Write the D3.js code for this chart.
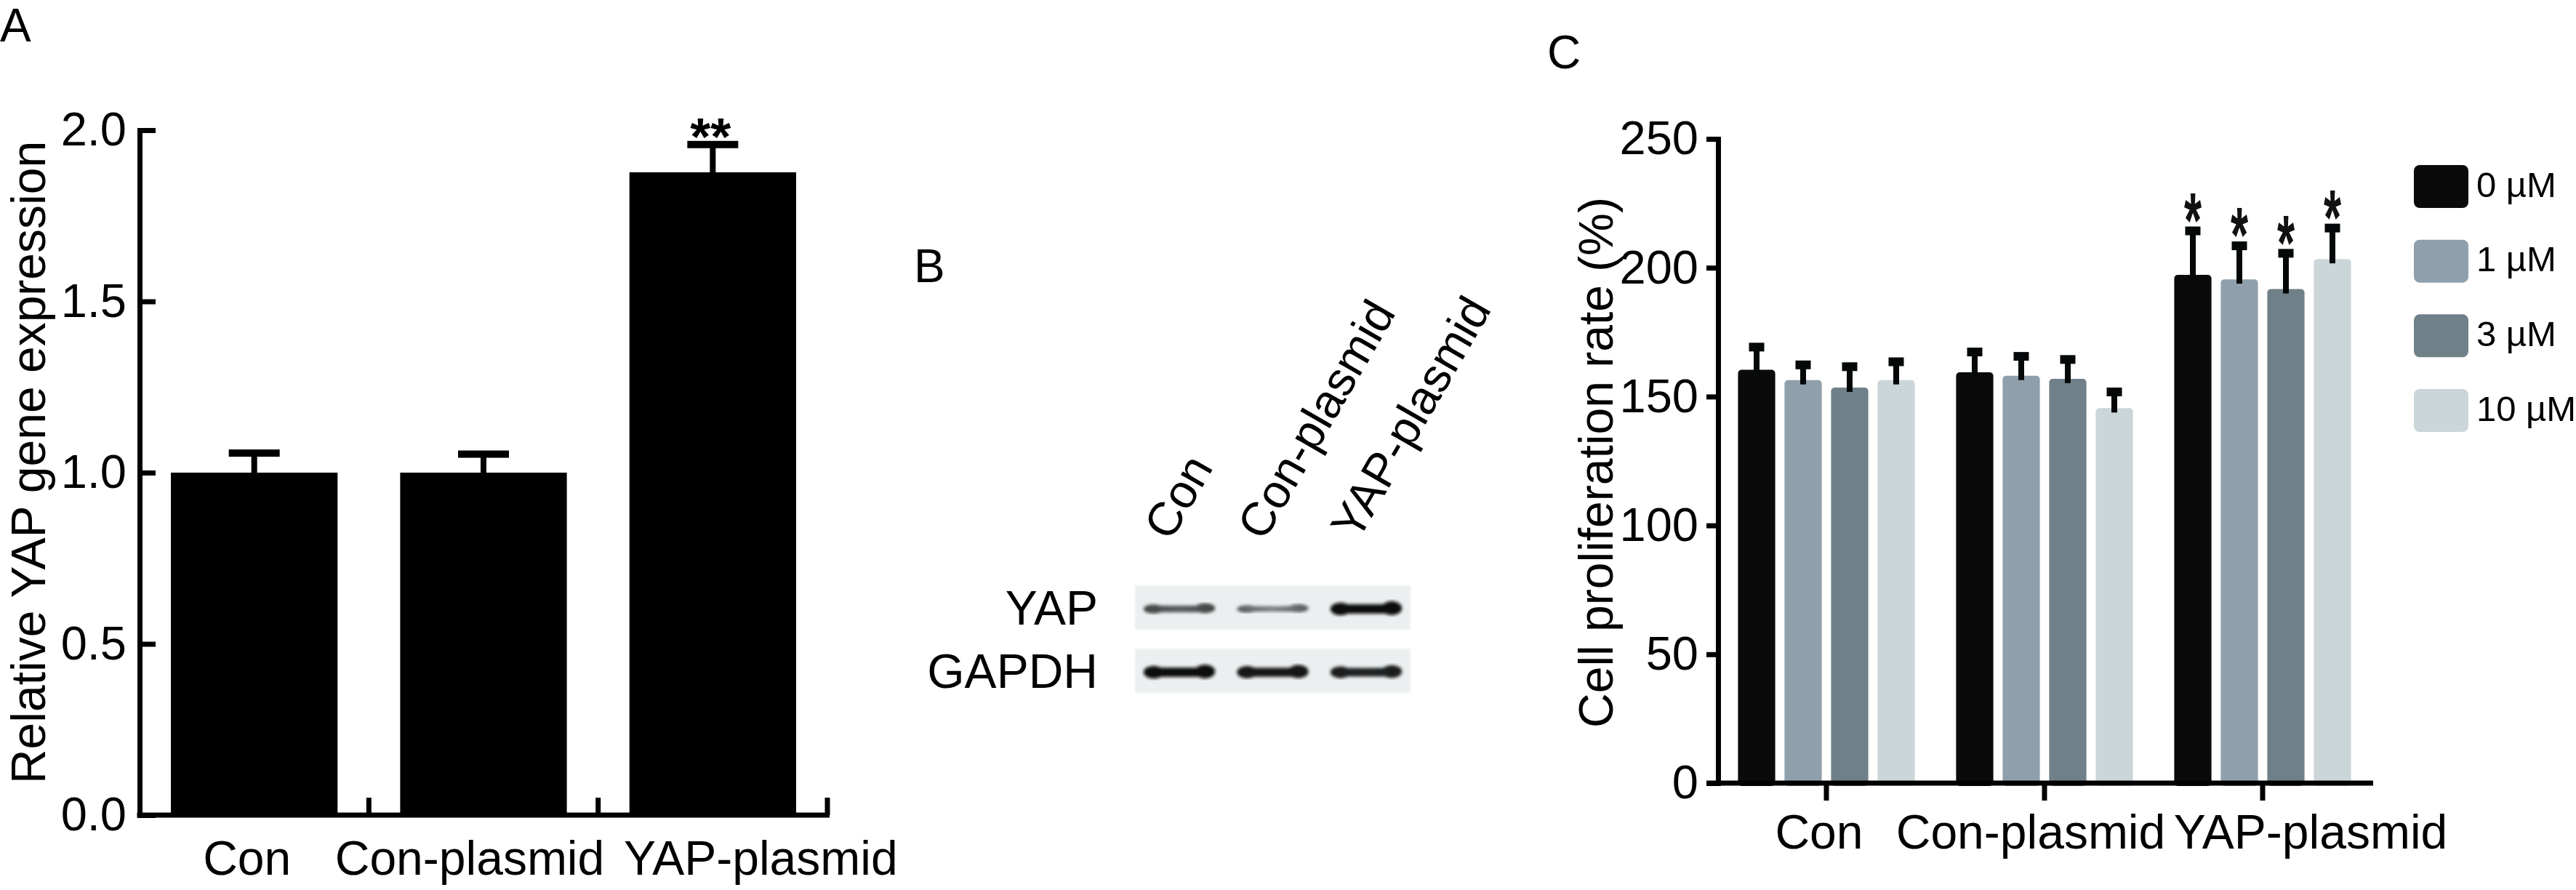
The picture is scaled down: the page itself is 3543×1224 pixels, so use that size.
<!DOCTYPE html>
<html>
<head>
<meta charset="utf-8">
<script src="https://cdn.jsdelivr.net/npm/d3@7"></script>
<style>
  html, body { margin: 0; padding: 0; background: #ffffff; }
  svg { display: block; }
</style>
</head>
<body>
<svg id="chart" width="3543" height="1224"></svg>
<script>
// ================= DATA =================
// Panel A: relative YAP gene expression
const categoriesA = ["Con", "Con-plasmid", "YAP-plasmid"];
const expressionMean = [1.0, 1.0, 1.877];
const expressionErr = [0.057, 0.054, 0.081];
const significanceA = ["", "", "**"];
const ticksA = [0, 0.5, 1.0, 1.5, 2.0];
const panelLabels = ["A", "B", "C"];

// Panel B: western blot (relative band signal)
const lanes = ["Con", "Con-plasmid", "YAP-plasmid"];
const blotRows = ["YAP", "GAPDH"];
const yapSignal = [0.55, 0.35, 1.0];
const gapdhSignal = [1.0, 0.95, 0.88];

// Panel C: cell proliferation rate (%)
const groupsC = ["Con", "Con-plasmid", "YAP-plasmid"];
const doses = ["0 µM", "1 µM", "3 µM", "10 µM"];
const rate0uM = [160.4, 159.4, 197.2];
const rate1uM = [156.4, 158.1, 195.5];
const rate3uM = [153.5, 156.9, 191.7];
const rate10uM = [156.4, 145.5, 203.4];
const err0uM = [8.8, 7.9, 17.1];
const err1uM = [5.9, 7.5, 13.0];
const err3uM = [8.1, 7.5, 13.9];
const err10uM = [7.1, 6.3, 12.0];
const significanceC = ["", "", "*"];
const ticksC = [0, 50, 100, 150, 200, 250];
const doseColors = ["#0a0a0a", "#8fa0ac", "#6f8089", "#cbd6d9"];

// ================= DRAW =================
const FONT = '"Liberation Sans", Arial, Helvetica, sans-serif';
const svg = d3.select("#chart");
svg.append("rect").attr("width", 3543).attr("height", 1224).attr("fill", "#fff");
const labelShift = [-10, -19, 66];   // horizontal nudges of category labels (layout)

// panel letters
const letterPos = [[0, 57], [1257, 388], [2128, 94]];
svg.selectAll("text.panel").data(panelLabels).join("text")
  .attr("class", "panel")
  .attr("x", (d, i) => letterPos[i][0]).attr("y", (d, i) => letterPos[i][1])
  .attr("font-family", FONT).attr("font-size", 64).attr("fill", "#000")
  .text(d => d);

// ---------- Panel A ----------
const A = { left: 192, right: 1138, top: 179, bottom: 1121 };
const xA = d3.scaleBand().domain(categoriesA).range([A.left, A.right]).padding(0);
const yA = d3.scaleLinear().domain([0, 2]).range([A.bottom, A.top]);
const barFracA = 0.727;
const gA = svg.append("g");

gA.selectAll("rect.bar").data(categoriesA).join("rect")
  .attr("class", "bar")
  .attr("x", d => xA(d) + xA.bandwidth() * (1 - barFracA) / 2)
  .attr("width", xA.bandwidth() * barFracA)
  .attr("y", (d, i) => yA(expressionMean[i]))
  .attr("height", (d, i) => yA(0) - yA(expressionMean[i]))
  .attr("fill", "#000");

// error bars
gA.selectAll("rect.stem").data(categoriesA).join("rect")
  .attr("class", "stem")
  .attr("x", d => xA(d) + xA.bandwidth() / 2 - 4)
  .attr("width", 8)
  .attr("y", (d, i) => yA(expressionMean[i] + expressionErr[i]))
  .attr("height", (d, i) => yA(expressionMean[i]) - yA(expressionMean[i] + expressionErr[i]) + 1)
  .attr("fill", "#000");
gA.selectAll("rect.cap").data(categoriesA).join("rect")
  .attr("class", "cap")
  .attr("x", d => xA(d) + xA.bandwidth() / 2 - 35)
  .attr("width", 70)
  .attr("y", (d, i) => yA(expressionMean[i] + expressionErr[i]) - 5)
  .attr("height", 10)
  .attr("fill", "#000");
gA.selectAll("text.sig").data(categoriesA).join("text")
  .attr("class", "sig")
  .attr("x", d => xA(d) + xA.bandwidth() / 2 - 3)
  .attr("y", (d, i) => yA(expressionMean[i] + expressionErr[i]) - 25 + 0.55 * 72)
  .attr("text-anchor", "middle")
  .attr("font-family", FONT).attr("font-weight", "bold").attr("font-size", 72)
  .text((d, i) => significanceA[i]);

// y axis (inward ticks)
const axA = gA.append("g").attr("transform", `translate(${A.left},0)`)
  .call(d3.axisLeft(yA).tickValues(ticksA).tickFormat(d3.format(".1f"))
    .tickSize(-22).tickSizeOuter(0).tickPadding(18));
axA.select(".domain").attr("stroke", "#000").attr("stroke-width", 7).attr("stroke-linecap", "square");
axA.selectAll(".tick line").attr("stroke", "#000").attr("stroke-width", 7);
axA.selectAll(".tick text").attr("font-family", FONT).attr("font-size", 65).attr("fill", "#000");

// x axis with upward ticks at category boundaries
gA.append("line").attr("x1", A.left - 3.5).attr("x2", A.right + 3)
  .attr("y1", A.bottom).attr("y2", A.bottom)
  .attr("stroke", "#000").attr("stroke-width", 7);
gA.selectAll("line.xtick").data(categoriesA).join("line")
  .attr("class", "xtick")
  .attr("x1", d => xA(d) + xA.bandwidth()).attr("x2", d => xA(d) + xA.bandwidth())
  .attr("y1", A.bottom).attr("y2", A.bottom - 24)
  .attr("stroke", "#000").attr("stroke-width", 7);
gA.selectAll("text.xlab").data(categoriesA).join("text")
  .attr("class", "xlab")
  .attr("x", (d, i) => xA(d) + xA.bandwidth() / 2 + labelShift[i])
  .attr("y", 1203)
  .attr("text-anchor", "middle")
  .attr("font-family", FONT).attr("font-size", 66)
  .text(d => d);
gA.append("text")
  .attr("transform", "translate(62,636) rotate(-90)")
  .attr("text-anchor", "middle")
  .attr("font-family", FONT).attr("font-size", 66)
  .text("Relative YAP gene expression");

// ---------- Panel B (blot) ----------
const B = { left: 1561, right: 1940, top: 805, bottom: 953 };
const xB = d3.scaleBand().domain(lanes).range([B.left, B.right]).paddingInner(0.25).paddingOuter(0.1);
const yB = d3.scaleBand().domain(blotRows).range([B.top, B.bottom]).paddingInner(0.3).paddingOuter(0);
const gB = svg.append("g");
const defs = svg.append("defs");
defs.append("filter").attr("id", "soft").append("feGaussianBlur").attr("stdDeviation", 1.6);
defs.append("filter").attr("id", "band").append("feGaussianBlur").attr("stdDeviation", 2.2);

gB.selectAll("rect.membrane").data(blotRows).join("rect")
  .attr("class", "membrane")
  .attr("x", B.left).attr("width", B.right - B.left)
  .attr("y", d => yB(d)).attr("height", yB.bandwidth())
  .attr("fill", "#eceff0").attr("filter", "url(#soft)");

const bandRows = [
  { row: "YAP", signal: yapSignal },
  { row: "GAPDH", signal: gapdhSignal }
];
const dark = "#0c0f0f", paper = "#e6eaea";
bandRows.forEach((br, r) => {
  lanes.forEach((lane, i) => {
    const s = br.signal[i];
    const x0 = xB(lane), x1 = x0 + xB.bandwidth();
    const cy = yB(br.row) + yB.bandwidth() / 2 + 2;
    const th = 6 + 10 * s;
    const gid = `grad${r}_${i}`;
    const grad = defs.append("linearGradient").attr("id", gid)
      .attr("gradientUnits", "userSpaceOnUse").attr("x1", x0).attr("x2", x1).attr("y1", 0).attr("y2", 0);
    const endCol = d3.interpolateRgb(dark, paper)(Math.max(0, 0.55 - s * 0.55));
    const midCol = d3.interpolateRgb(dark, paper)(Math.max(0, 0.8 - s * 0.8));
    grad.append("stop").attr("offset", "0%").attr("stop-color", endCol);
    grad.append("stop").attr("offset", "50%").attr("stop-color", midCol);
    grad.append("stop").attr("offset", "100%").attr("stop-color", endCol);
    const gb = gB.append("g").attr("filter", "url(#band)").attr("fill", `url(#${gid})`);
    gb.append("rect").attr("x", x0 + 8).attr("width", x1 - x0 - 16)
      .attr("y", cy - th * 0.4).attr("height", th * 0.8);
    gb.append("ellipse").attr("cx", x0 + 13).attr("cy", cy).attr("rx", 14).attr("ry", th * 0.55);
    gb.append("ellipse").attr("cx", x1 - 13).attr("cy", cy - 1).attr("rx", 14).attr("ry", th * 0.6);
  });
});

gB.selectAll("text.rowlab").data(blotRows).join("text")
  .attr("class", "rowlab")
  .attr("x", 1510)
  .attr("y", d => yB(d) + yB.bandwidth() / 2)
  .attr("dy", "0.36em")
  .attr("text-anchor", "end")
  .attr("font-family", FONT).attr("font-size", 66)
  .text(d => d);
gB.selectAll("text.lanelab").data(lanes).join("text")
  .attr("class", "lanelab")
  .attr("transform", d => `translate(${xB(d) + xB.bandwidth() / 2 - 12},746) rotate(-60)`)
  .attr("font-family", FONT).attr("font-size", 65)
  .text(d => d);

// ---------- Panel C ----------
const C = { left: 2363, right: 3264, top: 191, bottom: 1077 };
const x0C = d3.scaleBand().domain(groupsC).range([2362, 3262]).padding(0);
const groupWidth = 256;
const x1C = d3.scaleBand().domain(doses).range([0, groupWidth]).paddingInner(0.2).paddingOuter(0.1);
const yC = d3.scaleLinear().domain([0, 250]).range([C.bottom, C.top]);
const color = d3.scaleOrdinal().domain(doses).range(doseColors);
const seriesMeans = [rate0uM, rate1uM, rate3uM, rate10uM];
const seriesErrs = [err0uM, err1uM, err3uM, err10uM];
const cells = [];
groupsC.forEach((g, gi) => doses.forEach((d, di) => cells.push({
  group: g, gi, dose: d, di, mean: seriesMeans[di][gi], err: seriesErrs[di][gi]
})));
const cx = c => x0C(c.group) + x0C.bandwidth() / 2 - groupWidth / 2 + x1C(c.dose) + x1C.bandwidth() / 2;
const gC = svg.append("g");

gC.selectAll("rect.bar").data(cells).join("rect")
  .attr("class", "bar")
  .attr("x", c => cx(c) - x1C.bandwidth() / 2)
  .attr("width", x1C.bandwidth())
  .attr("y", c => yC(c.mean))
  .attr("height", c => yC(0) - yC(c.mean) + 4)
  .attr("rx", 5)
  .attr("fill", c => color(c.dose));
gC.selectAll("rect.stem").data(cells).join("rect")
  .attr("class", "stem")
  .attr("x", c => cx(c) - 4).attr("width", 8)
  .attr("y", c => yC(c.mean + c.err))
  .attr("height", c => yC(c.mean) - yC(c.mean + c.err) + 6)
  .attr("fill", "#050808");
gC.selectAll("rect.cap").data(cells).join("rect")
  .attr("class", "cap")
  .attr("x", c => cx(c) - 10.5).attr("width", 21)
  .attr("y", c => yC(c.mean + c.err) - 6).attr("height", 12)
  .attr("fill", "#050808");
gC.selectAll("text.sig").data(cells).join("text")
  .attr("class", "sig")
  .attr("transform", c => `translate(${cx(c)},${yC(c.mean + c.err) - 40}) scale(1,1.75)`)
  .attr("y", 0.575 * 62)
  .attr("text-anchor", "middle")
  .attr("font-family", FONT).attr("font-weight", "bold").attr("font-size", 62).attr("fill", "#111")
  .text(c => significanceC[c.gi]);

// y axis
const axC = gC.append("g").attr("transform", `translate(${C.left},0)`)
  .call(d3.axisLeft(yC).tickValues(ticksC).tickSize(16).tickSizeOuter(0).tickPadding(11));
axC.select(".domain").attr("stroke", "#000").attr("stroke-width", 7).attr("stroke-linecap", "square");
axC.selectAll(".tick line").attr("stroke", "#000").attr("stroke-width", 7);
axC.selectAll(".tick text").attr("font-family", FONT).attr("font-size", 65).attr("fill", "#000");

// x axis
gC.append("line").attr("x1", C.left - 16).attr("x2", C.right)
  .attr("y1", C.bottom).attr("y2", C.bottom)
  .attr("stroke", "#000").attr("stroke-width", 7);
gC.selectAll("line.xtick").data(groupsC).join("line")
  .attr("class", "xtick")
  .attr("x1", d => x0C(d) + x0C.bandwidth() / 2).attr("x2", d => x0C(d) + x0C.bandwidth() / 2)
  .attr("y1", C.bottom).attr("y2", C.bottom + 24)
  .attr("stroke", "#000").attr("stroke-width", 7);
gC.selectAll("text.xlab").data(groupsC).join("text")
  .attr("class", "xlab")
  .attr("x", (d, i) => x0C(d) + x0C.bandwidth() / 2 + labelShift[i])
  .attr("y", 1167)
  .attr("text-anchor", "middle")
  .attr("font-family", FONT).attr("font-size", 66)
  .text(d => d);
gC.append("text")
  .attr("transform", "translate(2218,636) rotate(-90)")
  .attr("text-anchor", "middle")
  .attr("font-family", FONT).attr("font-size", 66)
  .text("Cell proliferation rate (%)");

// legend
const yLeg = d3.scalePoint().domain(doses).range([256.5, 564.5]);
const gL = svg.append("g");
gL.selectAll("rect.sw").data(doses).join("rect")
  .attr("class", "sw")
  .attr("x", 3320).attr("width", 75)
  .attr("y", d => yLeg(d) - 29.5).attr("height", 59)
  .attr("rx", 8)
  .attr("fill", d => color(d));
gL.selectAll("text.lg").data(doses).join("text")
  .attr("class", "lg")
  .attr("x", 3406)
  .attr("y", d => yLeg(d) + 14)
  .attr("font-family", FONT).attr("font-size", 49)
  .text(d => d);
</script>
</body>
</html>
